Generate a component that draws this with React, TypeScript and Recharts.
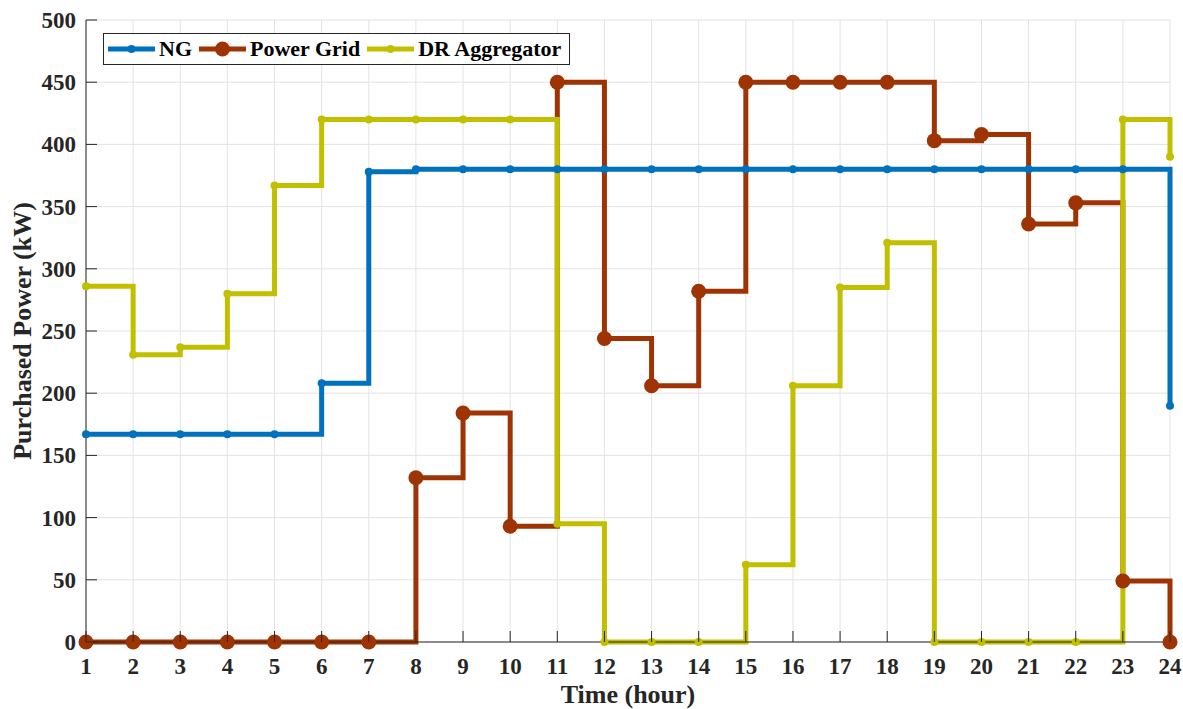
import { LineChart, Line, XAxis, YAxis, CartesianGrid, Legend } from 'recharts';

const hours = [1, 2, 3, 4, 5, 6, 7, 8, 9, 10, 11, 12, 13, 14, 15, 16, 17, 18, 19, 20, 21, 22, 23, 24];
const ngPower = [167, 167, 167, 167, 167, 208, 378, 380, 380, 380, 380, 380, 380, 380, 380, 380, 380, 380, 380, 380, 380, 380, 380, 190];
const gridPower = [0, 0, 0, 0, 0, 0, 0, 132, 184, 93, 450, 244, 206, 282, 450, 450, 450, 450, 403, 408, 336, 353, 49, 0];
const drPower = [286, 231, 237, 280, 367, 420, 420, 420, 420, 420, 95, 0, 0, 0, 62, 206, 285, 321, 0, 0, 0, 0, 420, 390];
const yTicks = [0, 50, 100, 150, 200, 250, 300, 350, 400, 450, 500];

const data = hours.map((h, i) => ({
  hour: h,
  ng: ngPower[i],
  grid: gridPower[i],
  dr: drPower[i],
}));

const AXIS = '#262626';
const FONT = '"Liberation Serif", "Times New Roman", serif';
const TICK_LEN = 11;

const series = [
  { key: 'ng', name: 'NG', color: '#0072BD', r: 4 },
  { key: 'grid', name: 'Power Grid', color: '#9E3403', r: 7.5 },
  { key: 'dr', name: 'DR Aggregator', color: '#C2BF00', r: 4 },
];

const tickText = { fontFamily: FONT, fontWeight: 700, fontSize: 23, fill: AXIS };

function BottomTick(props: any) {
  const { x, y, payload } = props;
  return (
    <g>
      <line x1={x} x2={x} y1={y} y2={y - TICK_LEN} stroke={AXIS} strokeWidth={1} />
      <text x={x} y={y + 32} textAnchor="middle" style={tickText}>
        {payload.value}
      </text>
    </g>
  );
}

function TopTick(props: any) {
  const { x, y } = props;
  return <line x1={x} x2={x} y1={y} y2={y + TICK_LEN} stroke={AXIS} strokeWidth={1} />;
}

function LeftTick(props: any) {
  const { x, y, payload } = props;
  return (
    <g>
      <line x1={x} x2={x + TICK_LEN} y1={y} y2={y} stroke={AXIS} strokeWidth={1} />
      <text x={x - 10} y={y + 8} textAnchor="end" style={tickText}>
        {payload.value}
      </text>
    </g>
  );
}

function RightTick(props: any) {
  const { x, y } = props;
  return <line x1={x} x2={x - TICK_LEN} y1={y} y2={y} stroke={AXIS} strokeWidth={1} />;
}

function LegendBox() {
  return (
    <div
      style={{
        display: 'flex',
        alignItems: 'center',
        border: `1px solid ${AXIS}`,
        background: '#fff',
        height: 30,
        padding: '0 8px 0 4px',
        fontFamily: FONT,
        fontWeight: 700,
        fontSize: 22,
        color: '#000',
        whiteSpace: 'nowrap',
      }}
    >
      {series.map((s, i) => (
        <div key={s.key} style={{ display: 'flex', alignItems: 'center', marginLeft: i === 0 ? 0 : 7 }}>
          <svg width={47} height={20}>
            <line x1={0} x2={47} y1={10} y2={10} stroke={s.color} strokeWidth={5} />
            <circle cx={23.5} cy={10} r={s.r} fill={s.color} />
          </svg>
          <span style={{ marginLeft: 4 }}>{s.name}</span>
        </div>
      ))}
    </div>
  );
}

export default function App() {
  return (
    <div style={{ position: 'absolute', left: 0, top: 0, background: '#fff' }}>
      <LineChart
        width={1183}
        height={709}
        data={data}
        margin={{ top: 20, right: 13, left: 0, bottom: 0 }}
      >
        <CartesianGrid stroke="#E3E3E3" strokeWidth={1} />
        <XAxis
          dataKey="hour"
          type="number"
          domain={[1, 24]}
          ticks={hours}
          interval={0}
          height={67}
          tickSize={0}
          tickMargin={0}
          tickLine={false}
          axisLine={{ stroke: AXIS, strokeWidth: 1 }}
          tick={<BottomTick />}
          label={{
            value: 'Time (hour)',
            position: 'insideBottom',
            offset: 6,
            style: { fontFamily: FONT, fontWeight: 700, fontSize: 26, fill: AXIS },
          }}
        />
        <XAxis
          xAxisId="top"
          orientation="top"
          dataKey="hour"
          type="number"
          domain={[1, 24]}
          ticks={hours}
          interval={0}
          height={0}
          tickSize={0}
          tickMargin={0}
          tickLine={false}
          axisLine={{ stroke: AXIS, strokeWidth: 1 }}
          tick={<TopTick />}
        />
        <YAxis
          type="number"
          domain={[0, 500]}
          ticks={yTicks}
          interval={0}
          width={86}
          tickSize={0}
          tickMargin={0}
          tickLine={false}
          axisLine={{ stroke: AXIS, strokeWidth: 1 }}
          tick={<LeftTick />}
          label={{
            value: 'Purchased Power (kW)',
            angle: -90,
            position: 'insideLeft',
            offset: 22,
            style: { fontFamily: FONT, fontWeight: 700, fontSize: 26, fill: AXIS, textAnchor: 'middle' },
          }}
        />
        <YAxis
          yAxisId="right"
          orientation="right"
          type="number"
          domain={[0, 500]}
          ticks={yTicks}
          interval={0}
          width={0}
          tickSize={0}
          tickMargin={0}
          tickLine={false}
          axisLine={{ stroke: AXIS, strokeWidth: 1 }}
          tick={<RightTick />}
        />
        {series.map((s) => (
          <Line
            key={s.key}
            type="stepAfter"
            dataKey={s.key}
            name={s.name}
            stroke={s.color}
            strokeWidth={5}
            strokeLinejoin="miter"
            dot={{ r: s.r, fill: s.color, stroke: 'none' }}
            activeDot={false}
            isAnimationActive={false}
          />
        ))}
        <Legend
          layout="horizontal"
          verticalAlign="middle"
          align="center"
          content={<LegendBox />}
          wrapperStyle={{ position: 'absolute', left: 103, top: 33, width: 'auto', height: 'auto' }}
        />
      </LineChart>
    </div>
  );
}
